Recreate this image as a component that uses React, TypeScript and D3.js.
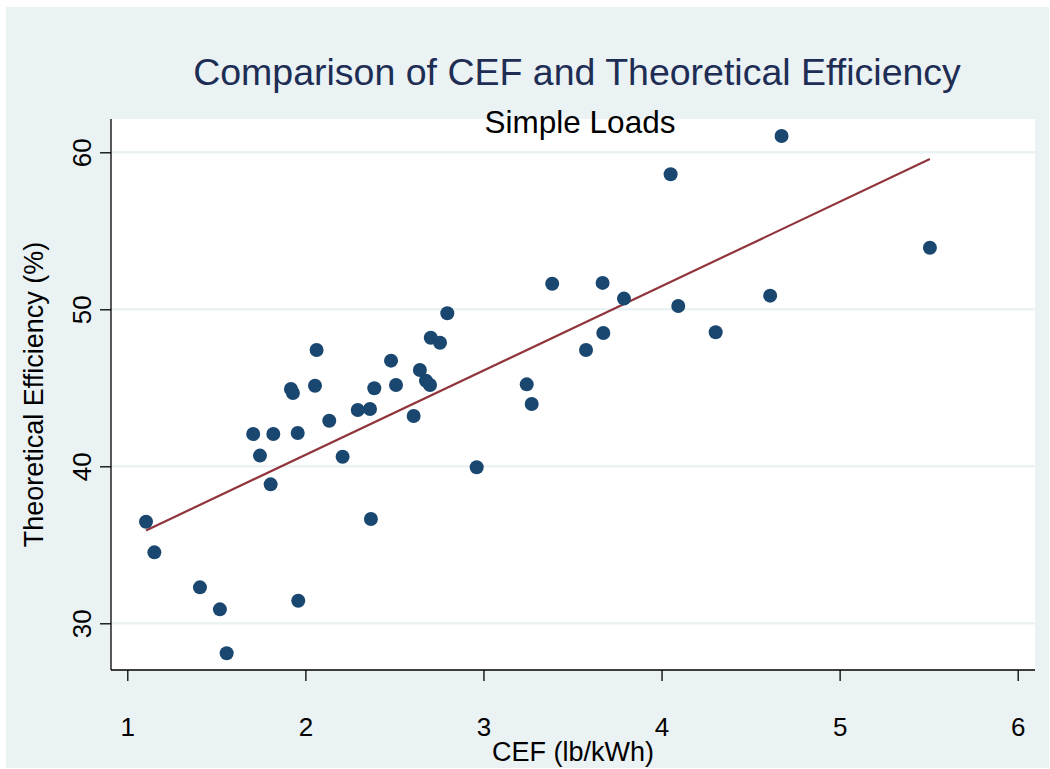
import * as d3 from "d3";
import React, { useRef, useEffect } from "react";

// CEF (lb/kWh) and theoretical efficiency (%)
const cef = [
  1.105, 1.152, 1.408, 1.52, 1.558, 1.707, 1.745, 1.805, 1.82, 1.919, 1.93,
  1.957, 1.96, 2.054, 2.063, 2.134, 2.209, 2.294, 2.363, 2.368, 2.387, 2.481,
  2.509, 2.608, 2.643, 2.677, 2.7, 2.704, 2.756, 2.797, 2.962, 3.243, 3.271,
  3.386, 3.576, 3.669, 3.673, 3.789, 4.051, 4.094, 4.304, 4.61, 4.674, 5.507,
];
const efficiency = [
  36.47, 34.52, 32.29, 30.89, 28.09, 42.06, 40.68, 38.85, 42.06, 44.92, 44.67,
  42.12, 31.44, 45.13, 47.41, 42.9, 40.61, 43.59, 43.65, 36.64, 44.97, 46.73,
  45.18, 43.2, 46.13, 45.45, 45.18, 48.19, 47.87, 49.75, 39.94, 45.22, 43.97,
  51.63, 47.41, 51.68, 48.49, 50.68, 58.6, 50.21, 48.54, 50.87, 61.04, 53.92,
];
const xTicks = [1, 2, 3, 4, 5, 6];
const yTicks = [30, 40, 50, 60];

const W = 1050;
const H = 769;
const font = "'Liberation Sans', Arial, sans-serif";

function Scatter() {
  const ref = useRef<SVGSVGElement>(null);

  useEffect(() => {
    const svg = d3.select(ref.current);
    svg.selectAll("*").remove();

    const plot = { left: 111, right: 1035, top: 119, bottom: 670 };

    const x = d3.scaleLinear().domain([1, 6]).range([127.3, 1017.7]);
    const y = d3.scaleLinear().domain([30, 60]).range([623.3, 152.3]);

    // outer background
    svg.append("rect")
      .attr("x", 6).attr("y", 7)
      .attr("width", W - 7).attr("height", H - 8)
      .attr("fill", "#eaf2f3");

    // plot region
    svg.append("rect")
      .attr("x", plot.left).attr("y", plot.top)
      .attr("width", plot.right - plot.left)
      .attr("height", plot.bottom - plot.top)
      .attr("fill", "#ffffff");

    // gridlines
    svg.append("g")
      .selectAll("line")
      .data(yTicks)
      .enter()
      .append("line")
      .attr("x1", plot.left).attr("x2", plot.right)
      .attr("y1", d => y(d)).attr("y2", d => y(d))
      .attr("stroke", "#eaf2f3")
      .attr("stroke-width", 2.5);

    // regression line over the data range
    const pts = cef.map((c, i) => [c, efficiency[i]] as [number, number]);
    const mx = d3.mean(cef)!;
    const my = d3.mean(efficiency)!;
    const slope =
      d3.sum(pts, p => (p[0] - mx) * (p[1] - my)) /
      d3.sum(pts, p => (p[0] - mx) ** 2);
    const icpt = my - slope * mx;
    const [x0, x1] = d3.extent(cef) as [number, number];
    const line = d3.line<number>()
      .x(d => x(d))
      .y(d => y(icpt + slope * d));

    svg.append("path")
      .datum([x0, x1])
      .attr("d", line)
      .attr("fill", "none")
      .attr("stroke", "#90353b")
      .attr("stroke-width", 2.2);

    // points
    svg.append("g")
      .selectAll("circle")
      .data(pts)
      .enter()
      .append("circle")
      .attr("cx", d => x(d[0]))
      .attr("cy", d => y(d[1]))
      .attr("r", 7)
      .attr("fill", "#1a476f");

    // axes
    const xAxis = d3.axisBottom(x)
      .tickValues(xTicks)
      .tickSize(11)
      .tickFormat(d3.format("d"));
    const gx = svg.append("g")
      .attr("transform", `translate(0,${plot.bottom})`)
      .call(xAxis);
    gx.select(".domain").remove();
    gx.selectAll(".tick line").attr("stroke", "#000").attr("stroke-width", 1.3);
    gx.selectAll(".tick text")
      .attr("y", 66)
      .attr("dy", null)
      .attr("font-size", 26)
      .attr("font-family", font)
      .attr("fill", "#000");
    gx.append("line")
      .attr("x1", plot.left).attr("x2", plot.right)
      .attr("y1", 0).attr("y2", 0)
      .attr("stroke", "#000").attr("stroke-width", 1.3);

    const yAxis = d3.axisLeft(y)
      .tickValues(yTicks)
      .tickSize(11)
      .tickFormat(d3.format("d"));
    const gy = svg.append("g")
      .attr("transform", `translate(${plot.left},0)`)
      .call(yAxis);
    gy.select(".domain").remove();
    gy.selectAll(".tick line").attr("stroke", "#000").attr("stroke-width", 1.3);
    gy.selectAll(".tick text")
      .attr("x", null)
      .attr("dy", null)
      .attr("transform", "translate(-20,0) rotate(-90)")
      .attr("text-anchor", "middle")
      .attr("font-size", 26)
      .attr("font-family", font)
      .attr("fill", "#000");
    gy.append("line")
      .attr("x1", 0).attr("x2", 0)
      .attr("y1", plot.top).attr("y2", plot.bottom)
      .attr("stroke", "#000").attr("stroke-width", 1.3);

    // axis titles
    svg.append("text")
      .attr("x", (plot.left + plot.right) / 2)
      .attr("y", 761)
      .attr("text-anchor", "middle")
      .attr("font-size", 27)
      .attr("font-family", font)
      .attr("fill", "#000")
      .text("CEF (lb/kWh)");

    svg.append("text")
      .attr("transform", `translate(43,${(plot.top + plot.bottom) / 2}) rotate(-90)`)
      .attr("text-anchor", "middle")
      .attr("font-size", 27)
      .attr("font-family", font)
      .attr("fill", "#000")
      .text("Theoretical Efficiency (%)");

    // titles
    svg.append("text")
      .attr("x", 577)
      .attr("y", 85)
      .attr("text-anchor", "middle")
      .attr("font-size", 37.5)
      .attr("font-family", font)
      .attr("fill", "#1e2d53")
      .text("Comparison of CEF and Theoretical Efficiency");

    svg.append("text")
      .attr("x", 580)
      .attr("y", 133)
      .attr("text-anchor", "middle")
      .attr("font-size", 31.5)
      .attr("font-family", font)
      .attr("fill", "#000")
      .text("Simple Loads");
  }, []);

  return (
    <svg
      ref={ref}
      width={W}
      height={H}
      style={{ position: "absolute", left: 0, top: 0, background: "#fff" }}
    />
  );
}

export default function App() {
  return (
    <div>
      <Scatter />
    </div>
  );
}
